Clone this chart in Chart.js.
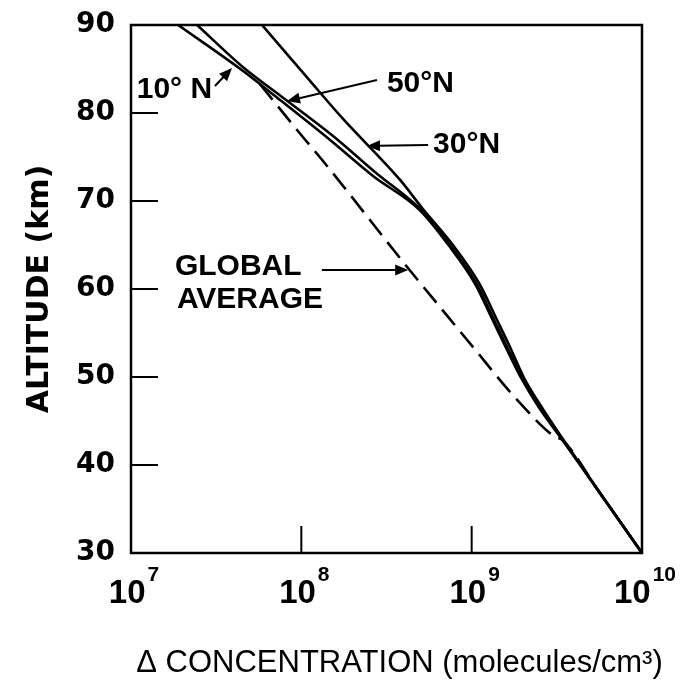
<!DOCTYPE html>
<html>
<head>
<meta charset="utf-8">
<script src="https://cdn.jsdelivr.net/npm/chart.js@4.4.1/dist/chart.umd.min.js"></script>
<style>
html,body{margin:0;padding:0;background:#fff;}
#wrap{width:686px;height:681px;}
</style>
</head>
<body>
<div id="wrap"><canvas id="grafico" width="686" height="681"></canvas></div>
<script>
// perfiles (concentracion en moleculas/cm3, altitud en km)
const alt10N=[90,84.77,81.48,76.93,72.84,68.98,65.0,60.68,56.48,53.41,50.0,46.59,42.84,36.82,30];
const conc10N=[1.89e7,4.55e7,7.5e7,1.476e8,2.636e8,4.95e8,7.31e8,1.041e9,1.328e9,1.582e9,1.937e9,2.473e9,3.41e9,5.65e9,1e10];
const alt50N=[90,85.11,81.82,77.39,73.18,68.98,65.0,60.68,56.48,53.41,50.0,46.59,42.84,36.82,30];
const conc50N=[2.443e7,4.61e7,7.71e7,1.535e8,2.748e8,5.05e8,7.46e8,1.062e9,1.355e9,1.614e9,1.977e9,2.523e9,3.443e9,5.675e9,1e10];
const alt30N=[90,83.64,79.32,72.39,69.2,65.0,60.68,56.48,53.41,50.0,46.59,42.84,36.82,30];
const conc30N=[5.875e7,1.125e8,1.758e8,3.8e8,5.12e8,7.76e8,1.104e9,1.409e9,1.679e9,2.017e9,2.573e9,3.46e9,5.675e9,1e10];
const altGlobal=[83.3,78.07,73.98,62.5,57.95,53.4,47.4,43.18,42.84,36.82,30];
const concGlobal=[5.71e7,9.44e7,1.416e8,4.18e8,6.52e8,1.019e9,1.849e9,3.09e9,3.41e9,5.65e9,1e10];

const xTicks=[1e7,1e8,1e9,1e10];
const xTickExp=['7','8','9','10'];
const yInnerTicks=[40,50,60,70,80];
const xInnerTicks=[1e8,1e9];
const xTitle='Δ CONCENTRATION (molecules/cm³)';
const yTitle='ALTITUDE (km)';

// rotulos y flechas, en coordenadas de datos
const rotulos=[
 {text:'10° N',x:1.08e7,y:82.7},
 {text:'50°N',x:3.18e8,y:83.35},
 {text:'30°N',x:5.93e8,y:76.36},
 {text:'GLOBAL',x:1.81e7,y:62.5},
 {text:'AVERAGE',x:1.86e7,y:58.75}
];
const flechas=[
 {x1:3.11e7,y1:83.07,x2:3.92e7,y2:85.11},
 {x1:2.78e8,y1:83.75,x2:8.24e7,y2:81.36},
 {x1:5.55e8,y1:76.36,x2:2.43e8,y2:76.25},
 {x1:1.32e8,y1:62.16,x2:4.24e8,y2:62.16}
];

const FUENTE='"Liberation Sans", Arial, sans-serif';
const pares=(xs,ys)=>xs.map((v,i)=>({x:v,y:ys[i]}));

function flecha(ctx,x1,y1,x2,y2){
 const a=Math.atan2(y2-y1,x2-x1),L=13,W=5.5;
 const c=Math.cos(a),s=Math.sin(a);
 ctx.beginPath();ctx.moveTo(x1,y1);ctx.lineTo(x2-L*0.8*c,y2-L*0.8*s);ctx.stroke();
 ctx.beginPath();
 ctx.moveTo(x2,y2);
 ctx.lineTo(x2-L*c+W*s,y2-L*s-W*c);
 ctx.lineTo(x2-L*c-W*s,y2-L*s+W*c);
 ctx.closePath();ctx.fill();
}

const marcoPlugin={
 id:'marco',
 afterDatasetsDraw(chart){
  const {ctx,chartArea:a,scales:{x,y}}=chart;
  ctx.save();
  ctx.strokeStyle='#000';ctx.fillStyle='#000';
  ctx.lineWidth=2.5;
  ctx.strokeRect(a.left,a.top,a.right-a.left,a.bottom-a.top);
  ctx.lineWidth=2;
  ctx.beginPath();
  yInnerTicks.forEach(v=>{const py=y.getPixelForValue(v);ctx.moveTo(a.left,py);ctx.lineTo(a.left+27,py);});
  xInnerTicks.forEach(v=>{const px=x.getPixelForValue(v);ctx.moveTo(px,a.bottom);ctx.lineTo(px,a.bottom-27);});
  ctx.stroke();
  // etiquetas del eje x: 10 con exponente, el grupo centrado en la marca
  ctx.textBaseline='alphabetic';ctx.textAlign='left';
  xTicks.forEach((v,i)=>{
   const px=x.getPixelForValue(v);
   ctx.font='bold 33px '+FUENTE;
   const wb=ctx.measureText('10').width;
   ctx.font='bold 21px '+FUENTE;
   const we=ctx.measureText(xTickExp[i]).width;
   const x0=px-(wb+2+we)/2+3;
   ctx.font='bold 33px '+FUENTE;
   ctx.fillText('10',x0,a.bottom+50);
   ctx.font='bold 21px '+FUENTE;
   ctx.fillText(xTickExp[i],x0+wb+2,a.bottom+28);
  });
  // titulo del eje x
  ctx.font='31px '+FUENTE;
  ctx.textAlign='center';ctx.textBaseline='middle';
  ctx.fillText(xTitle,(a.left+a.right)/2+13,chart.height-18);
  ctx.font='bold 30px '+FUENTE;
  ctx.textAlign='left';
  rotulos.forEach(r=>ctx.fillText(r.text,x.getPixelForValue(r.x),y.getPixelForValue(r.y)));
  flechas.forEach(f=>flecha(ctx,x.getPixelForValue(f.x1),y.getPixelForValue(f.y1),x.getPixelForValue(f.x2),y.getPixelForValue(f.y2)));
  ctx.restore();
 }
};

const estilo={borderColor:'#000',borderWidth:2.6,pointRadius:0,showLine:true,fill:false,cubicInterpolationMode:'monotone'};

new Chart(document.getElementById('grafico').getContext('2d'),{
 type:'scatter',
 data:{datasets:[
  {label:'10°N',data:pares(conc10N,alt10N),...estilo},
  {label:'50°N',data:pares(conc50N,alt50N),...estilo},
  {label:'30°N',data:pares(conc30N,alt30N),...estilo},
  {label:'Global average',data:pares(concGlobal,altGlobal),...estilo,borderDash:[20,9]}
 ]},
 options:{
  responsive:false,
  devicePixelRatio:1,
  animation:false,
  layout:{padding:{left:0,right:44,top:25,bottom:0}},
  plugins:{legend:{display:false},tooltip:{enabled:false}},
  scales:{
   x:{
    type:'logarithmic',min:1e7,max:1e10,
    afterBuildTicks:s=>{s.ticks=xTicks.map(v=>({value:v}));},
    afterFit:s=>{s.height=128;s.paddingLeft=0;s.paddingRight=0;},
    grid:{display:false,drawTicks:false},
    border:{display:false},
    ticks:{display:false},
    title:{display:false,text:xTitle}
   },
   y:{
    type:'linear',min:30,max:90,
    afterFit:s=>{s.width=131;s.paddingTop=0;s.paddingBottom=0;},
    grid:{display:false,drawTicks:false},
    border:{display:false},
    ticks:{stepSize:10,padding:16,color:'#000',font:{family:'"DejaVu Sans", sans-serif',size:28,weight:'bold'}},
    title:{display:true,text:yTitle,color:'#000',font:{family:'"DejaVu Sans", sans-serif',size:30,weight:'bold',lineHeight:1.2},padding:{top:22,bottom:0}}
   }
  }
 },
 plugins:[marcoPlugin]
});
</script>
</body>
</html>
